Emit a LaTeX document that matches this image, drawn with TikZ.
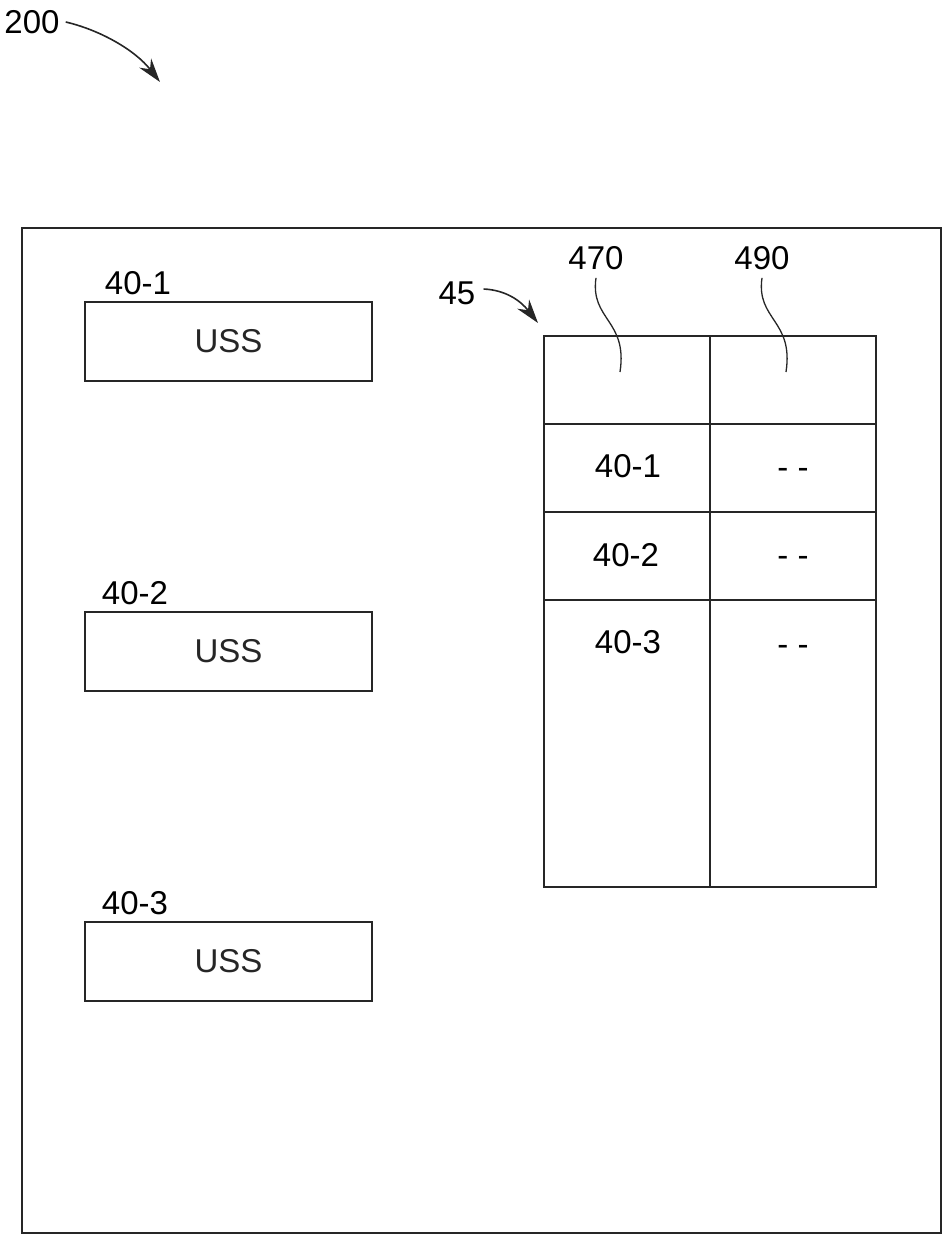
\documentclass[tikz,border=0pt]{standalone}
\usepackage{fontspec}
\setmainfont{Liberation Sans}
\usetikzlibrary{arrows.meta}
\begin{document}
\begin{tikzpicture}[x=1pt,y=-1pt,
  line/.style={line width=2pt,black!85},
  lbl/.style={font=\fontsize{33}{38}\selectfont,inner sep=0pt},
  ussbox/.style={draw,line width=2pt,black!85,minimum width=287pt,minimum height=79pt,font=\fontsize{33}{38}\selectfont,inner sep=0pt},
  lead/.style={line width=1.3pt,black!85},
  arr/.style={line width=1.6pt,black!85,-{Stealth[length=24pt,width=15pt]}}]
\useasboundingbox (0,0) rectangle (943,1235);
% outer frame
\draw[line] (22,228) rectangle (941,1233);
% USS boxes
\node[ussbox] (u1) at (228.5,341.5) {\raisebox{-2pt}{USS}};
\node[ussbox] (u2) at (228.5,651.5) {\raisebox{-2pt}{USS}};
\node[ussbox] (u3) at (228.5,961.5) {\raisebox{-2pt}{USS}};
\node[lbl] (l1) at (138,283) {40-1};
\node[lbl] (l2) at (135,593) {40-2};
\node[lbl] (l3) at (135,903) {40-3};
% table
\draw[line] (544,336) rectangle (876,887);
\draw[line] (710,336) -- (710,887);
\draw[line] (544,424) -- (876,424);
\draw[line] (544,512) -- (876,512);
\draw[line] (544,600) -- (876,600);
\node[lbl] (t1) at (628,466) {40-1};
\node[lbl] (t2) at (626,555) {40-2};
\node[lbl] (t3) at (628,642) {40-3};
\node[lbl] (d1) at (793,473) {- -};
\node[lbl] (d2) at (793,561) {- -};
\node[lbl] (d3) at (793,650) {- -};
% leaders
\node[lbl] (n470) at (596,258) {470};
\node[lbl] (n490) at (762,258) {490};
\coordinate (e470) at (620,372);
\coordinate (e490) at (786,372);
\draw[lead] (n470.south) ++(0,8) .. controls (590,320) and (628,320) .. (e470);
\draw[lead] (n490.south) ++(0,8) .. controls (756,320) and (794,320) .. (e490);
% 45 arrow
\node[lbl] (n45) at (457,293) {45};
\coordinate (a45) at (538,323);
\draw[arr] (n45.east) ++(8,-4) .. controls (505,290) and (520,300) .. (a45);
% 200 arrow
\node[lbl] (n200) at (32,22) {200};
\coordinate (a200) at (160,82);
\draw[arr] (n200.east) ++(6,0) .. controls (100,30) and (135,50) .. (a200);
\end{tikzpicture}
\end{document}
